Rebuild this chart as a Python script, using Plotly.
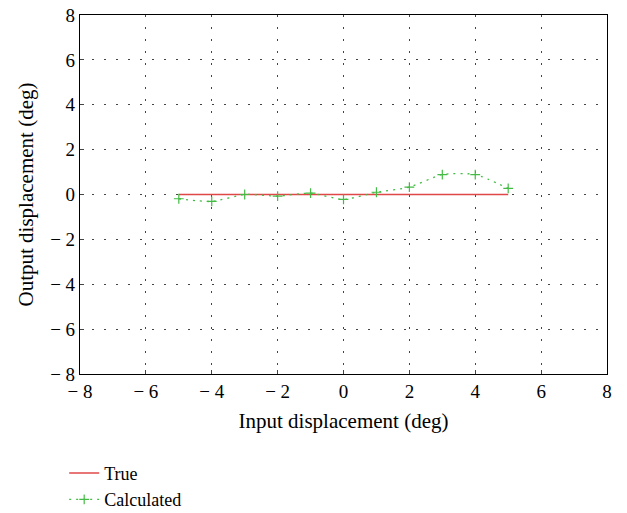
import plotly.graph_objects as go

x_true = [-5, 5]
y_true = [0, 0]
x_calc = [-5, -4, -3, -2, -1, 0, 1, 2, 3, 4, 5]
y_calc = [-0.19, -0.31, 0.0, -0.07, 0.06, -0.22, 0.1, 0.33, 0.89, 0.89, 0.27]
tick_vals = [-8, -6, -4, -2, 0, 2, 4, 6, 8]
tick_text = ["− 8", "− 6", "− 4", "− 2", "0", "2", "4", "6", "8"]

fig = go.Figure()
fig.add_trace(go.Scatter(x=x_true, y=y_true, mode="lines", name="True",
                         line=dict(color="#e04848", width=1.5)))
fig.add_trace(go.Scatter(x=x_calc, y=y_calc, mode="lines+markers", name="Calculated",
                         line=dict(color="#44bb44", width=1.3, dash="2px,5px",
                                   shape="spline", smoothing=0.6),
                         marker=dict(symbol="cross-thin", size=7, line=dict(color="#44bb44", width=1.2))))

tick_font = dict(family="Liberation Serif", size=19, color="black")
title_font = dict(family="Liberation Serif", size=21, color="black")
legend_font = dict(family="Liberation Serif", size=18, color="black")
axis_common = dict(range=[-8, 8], tickvals=tick_vals, ticktext=tick_text,
                   showline=True, linecolor="black", linewidth=1.2, mirror=True,
                   showgrid=True, gridcolor="#444444", gridwidth=1, griddash="1.5px,10.5px",
                   zeroline=False, ticks="inside", ticklen=4, tickcolor="#444444",
                   automargin=False, tickfont=tick_font)
fig.update_layout(
    width=627, height=513,
    margin=dict(l=80, r=20, t=15, b=139, autoexpand=False),
    plot_bgcolor="white", paper_bgcolor="white",
    font=tick_font,
    xaxis=dict(**axis_common, title=dict(text="Input displacement (deg)", font=title_font, standoff=12)),
    yaxis=dict(**axis_common, title=dict(text="Output displacement (deg)", font=title_font, standoff=10)),
    legend=dict(x=-0.03, y=-0.225, xanchor="left", yanchor="top", font=legend_font,
                bgcolor="rgba(0,0,0,0)", tracegroupgap=0),
    showlegend=True,
)
fig.write_html("out.html", config={"displayModeBar": False},
               post_script="document.body.style.margin='0';")
